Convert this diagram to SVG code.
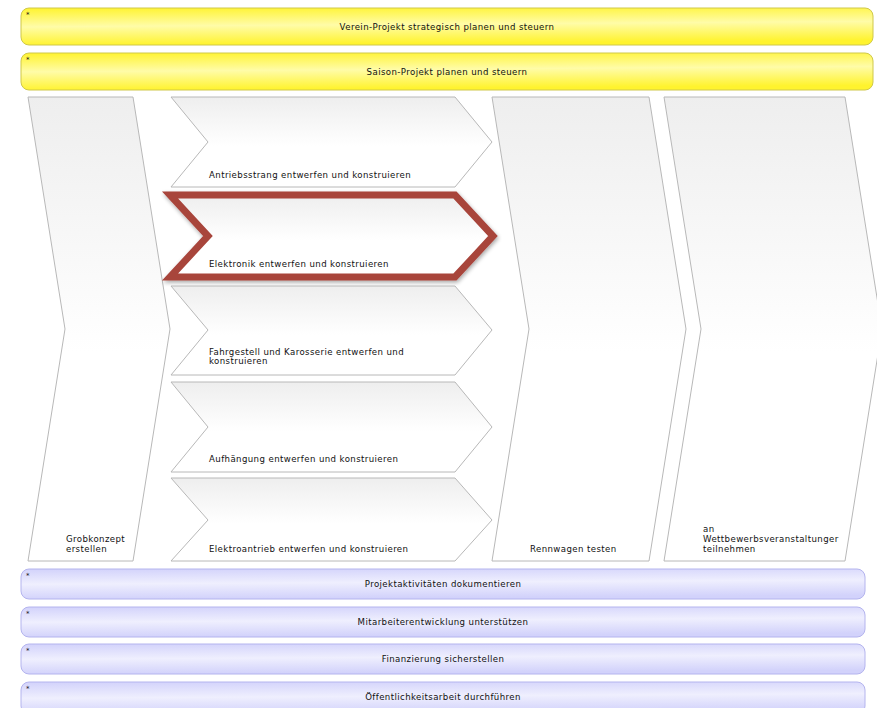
<svg xmlns="http://www.w3.org/2000/svg" width="877" height="708" viewBox="0 0 877 708">
  <defs>
    <linearGradient id="gYellow" x1="0" y1="0" x2="0.15" y2="1">
      <stop offset="0" stop-color="#fff32e"/>
      <stop offset="0.5" stop-color="#fffca8"/>
      <stop offset="1" stop-color="#fff32e"/>
    </linearGradient>
    <linearGradient id="gLilac" x1="0" y1="0" x2="0.15" y2="1">
      <stop offset="0" stop-color="#d2d2fb"/>
      <stop offset="0.5" stop-color="#efeffe"/>
      <stop offset="1" stop-color="#d2d2fb"/>
    </linearGradient>
    <linearGradient id="gStep" x1="0" y1="0" x2="0" y2="1">
      <stop offset="0" stop-color="#eeeeee"/>
      <stop offset="0.55" stop-color="#ffffff"/>
      <stop offset="1" stop-color="#ffffff"/>
    </linearGradient>
    <filter id="shadow" x="-10%" y="-20%" width="120%" height="140%">
      <feGaussianBlur in="SourceAlpha" stdDeviation="2"/>
      <feOffset dx="1" dy="2" result="b"/>
      <feComponentTransfer><feFuncA type="linear" slope="0.35"/></feComponentTransfer>
      <feMerge><feMergeNode/><feMergeNode in="SourceGraphic"/></feMerge>
    </filter>
  </defs>
  <style>
    text { font-family: "DejaVu Sans", Verdana, sans-serif; font-size: 8.6px; letter-spacing: 0.4px; fill: #111; }
    .mid { text-anchor: middle; }
    .star { font-size: 7px; letter-spacing: 0; }
    .bar-y { fill: url(#gYellow); stroke: #cfc84a; stroke-width: 1; }
    .bar-l { fill: url(#gLilac); stroke: #b4b4ee; stroke-width: 1; }
    .step { fill: url(#gStep); stroke: #b8b8b8; stroke-width: 1; }
    .focus { fill: url(#gStep); stroke: #a8443b; stroke-width: 7; stroke-linejoin: miter; }
  </style>

  <rect width="877" height="708" fill="#ffffff"/>

  <!-- management processes -->
  <g id="verein">
    <rect class="bar-y" x="21" y="8" width="852" height="37" rx="8"/>
    <text class="star" x="26" y="17">*</text>
    <text class="mid" x="447" y="30">Verein-Projekt strategisch planen und steuern</text>
  </g>
  <g id="saison">
    <rect class="bar-y" x="21" y="53" width="852" height="37" rx="8"/>
    <text class="star" x="26" y="62">*</text>
    <text class="mid" x="447" y="75">Saison-Projekt planen und steuern</text>
  </g>

  <!-- core process chain -->
  <g id="grobkonzept">
    <path class="step" d="M28,97 L133,97 L170,329 L133,561 L28,561 L65,329 Z"/>
    <text x="66" y="542">Grobkonzept</text>
    <text x="66" y="552">erstellen</text>
  </g>

  <g id="antriebsstrang">
    <path class="step" d="M171,97 L455,97 L492,142 L455,187 L171,187 L208,142 Z"/>
    <text x="209" y="178">Antriebsstrang entwerfen und konstruieren</text>
  </g>
  <g id="elektronik">
    <path class="focus" filter="url(#shadow)" d="M170,195 L455,195 L493,236 L455,277 L170,277 L208,236 Z"/>
    <text x="209" y="267">Elektronik entwerfen und konstruieren</text>
  </g>
  <g id="fahrgestell">
    <path class="step" d="M171,286 L455,286 L492,330 L455,375 L171,375 L208,330 Z"/>
    <text x="209" y="355">Fahrgestell und Karosserie entwerfen und</text>
    <text x="209" y="364">konstruieren</text>
  </g>
  <g id="aufhaengung">
    <path class="step" d="M171,382 L455,382 L492,427 L455,472 L171,472 L208,427 Z"/>
    <text x="209" y="462">Aufhängung entwerfen und konstruieren</text>
  </g>
  <g id="elektroantrieb">
    <path class="step" d="M171,478 L455,478 L492,520 L455,561 L171,561 L208,520 Z"/>
    <text x="209" y="552">Elektroantrieb entwerfen und konstruieren</text>
  </g>

  <g id="rennwagen">
    <path class="step" d="M492,97 L649,97 L686,329 L649,561 L492,561 L529,329 Z"/>
    <text x="530" y="552">Rennwagen testen</text>
  </g>
  <g id="wettbewerb">
    <path class="step" d="M664,97 L845,97 L882,329 L845,561 L664,561 L701,329 Z"/>
    <text x="703" y="532">an</text>
    <text x="703" y="542">Wettbewerbsveranstaltunger</text>
    <text x="703" y="552">teilnehmen</text>
  </g>

  <!-- support processes -->
  <g id="dokumentieren">
    <rect class="bar-l" x="21" y="569" width="844" height="30" rx="8"/>
    <text class="star" x="26" y="578">*</text>
    <text class="mid" x="443" y="587">Projektaktivitäten dokumentieren</text>
  </g>
  <g id="mitarbeiter">
    <rect class="bar-l" x="21" y="607" width="844" height="30" rx="8"/>
    <text class="star" x="26" y="616">*</text>
    <text class="mid" x="443" y="625">Mitarbeiterentwicklung unterstützen</text>
  </g>
  <g id="finanzierung">
    <rect class="bar-l" x="21" y="644" width="844" height="30" rx="8"/>
    <text class="star" x="26" y="653">*</text>
    <text class="mid" x="443" y="662">Finanzierung sicherstellen</text>
  </g>
  <g id="oeffentlichkeit">
    <rect class="bar-l" x="21" y="682" width="844" height="32" rx="8"/>
    <text class="star" x="26" y="691">*</text>
    <text class="mid" x="443" y="700">Öffentlichkeitsarbeit durchführen</text>
  </g>

  <g id="connectors"/>
</svg>
